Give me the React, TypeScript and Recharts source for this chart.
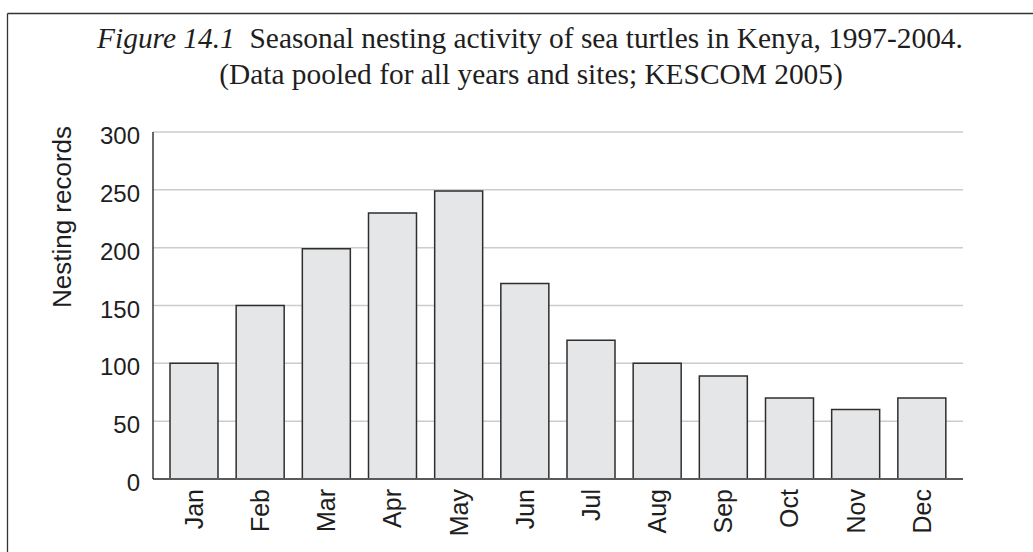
import React from 'react';
import { BarChart, Bar, XAxis, YAxis, CartesianGrid } from 'recharts';

const months = ['Jan', 'Feb', 'Mar', 'Apr', 'May', 'Jun', 'Jul', 'Aug', 'Sep', 'Oct', 'Nov', 'Dec'];
const nestingRecords = [100, 150, 199, 230, 249, 169, 120, 100, 89, 70, 60, 70];
const yTicks = [0, 50, 100, 150, 200, 250, 300];

const titleMain = 'Seasonal nesting activity of sea turtles in Kenya, 1997-2004.';
const titleFig = 'Figure 14.1';
const subtitle = '(Data pooled for all years and sites; KESCOM 2005)';
const yLabel = 'Nesting records';

const data = months.map((m, i) => ({ month: m, records: nestingRecords[i] }));

const SANS = '"Liberation Sans", Arial, Helvetica, sans-serif';
const SERIF = '"Liberation Serif", "Times New Roman", serif';

function MonthTick({ x, y, payload }: any) {
    return (
        <text
            x={x}
            y={y}
            transform={`rotate(-90 ${x} ${y})`}
            textAnchor="end"
            dy="0.35em"
            fontSize={25}
            fontFamily={SANS}
            fill="#1e1e1e"
        >
            {payload.value}
        </text>
    );
}

function ValueTick({ x, y, payload }: any) {
    return (
        <text x={x} y={y} dy={12} textAnchor="end" fontSize={24} fontFamily={SANS} fill="#1e1e1e">
            {payload.value}
        </text>
    );
}

export default function App() {
    return (
        <div style={{ position: 'absolute', left: 0, top: 0, width: 1033, height: 552, background: '#fff', overflow: 'hidden' }}>
            {/* frame + title */}
            <svg width={1033} height={552} style={{ position: 'absolute', left: 0, top: 0 }}>
                <line x1={7.5} y1={13.5} x2={1033} y2={13.5} stroke="#333" strokeWidth={1.3} />
                <line x1={7.5} y1={13.5} x2={7.5} y2={552} stroke="#333" strokeWidth={1.3} />
                <text x={530} y={48} textAnchor="middle" fontSize={29.4} fontFamily={SERIF} fill="#1e1e1e">
                    <tspan fontStyle="italic">{titleFig}</tspan>
                    <tspan>{'\u00a0 ' + titleMain}</tspan>
                </text>
                <text x={531} y={84} textAnchor="middle" fontSize={29.4} fontFamily={SERIF} fill="#1e1e1e">
                    {subtitle}
                </text>
                <text
                    x={71}
                    y={217}
                    transform="rotate(-90 71 217)"
                    textAnchor="middle"
                    fontSize={26}
                    fontFamily={SANS}
                    fill="#1e1e1e"
                >
                    {yLabel}
                </text>
            </svg>
            <div style={{ position: 'absolute', left: 0, top: 0 }}>
                <BarChart
                    width={1033}
                    height={552}
                    data={data}
                    margin={{ top: 132, right: 70, left: 0, bottom: 0 }}
                >
                    <CartesianGrid vertical={false} stroke="#cccccc" strokeWidth={1.5} />
                    <XAxis
                        dataKey="month"
                        height={73}
                        padding={{ left: 8, right: 8 }}
                        tickLine={false}
                        tickSize={0}
                        tickMargin={10}
                        tick={<MonthTick />}
                        interval={0}
                        axisLine={{ stroke: '#5a5a5a', strokeWidth: 2 }}
                    />
                    <YAxis
                        width={153}
                        domain={[0, 300]}
                        ticks={yTicks}
                        tickLine={false}
                        tickSize={0}
                        tickMargin={13}
                        tick={<ValueTick />}
                        axisLine={{ stroke: '#1a1a1a', strokeWidth: 1.3 }}
                    />
                    <YAxis
                        yAxisId="right"
                        orientation="right"
                        width={0}
                        domain={[0, 300]}
                        tick={false}
                        tickLine={false}
                        axisLine={{ stroke: '#cccccc', strokeWidth: 1.5 }}
                    />
                    <Bar
                        dataKey="records"
                        barSize={48}
                        fill="#e5e6e7"
                        stroke="#2e2e2e"
                        strokeWidth={1.5}
                        isAnimationActive={false}
                    />
                </BarChart>
            </div>
        </div>
    );
}
